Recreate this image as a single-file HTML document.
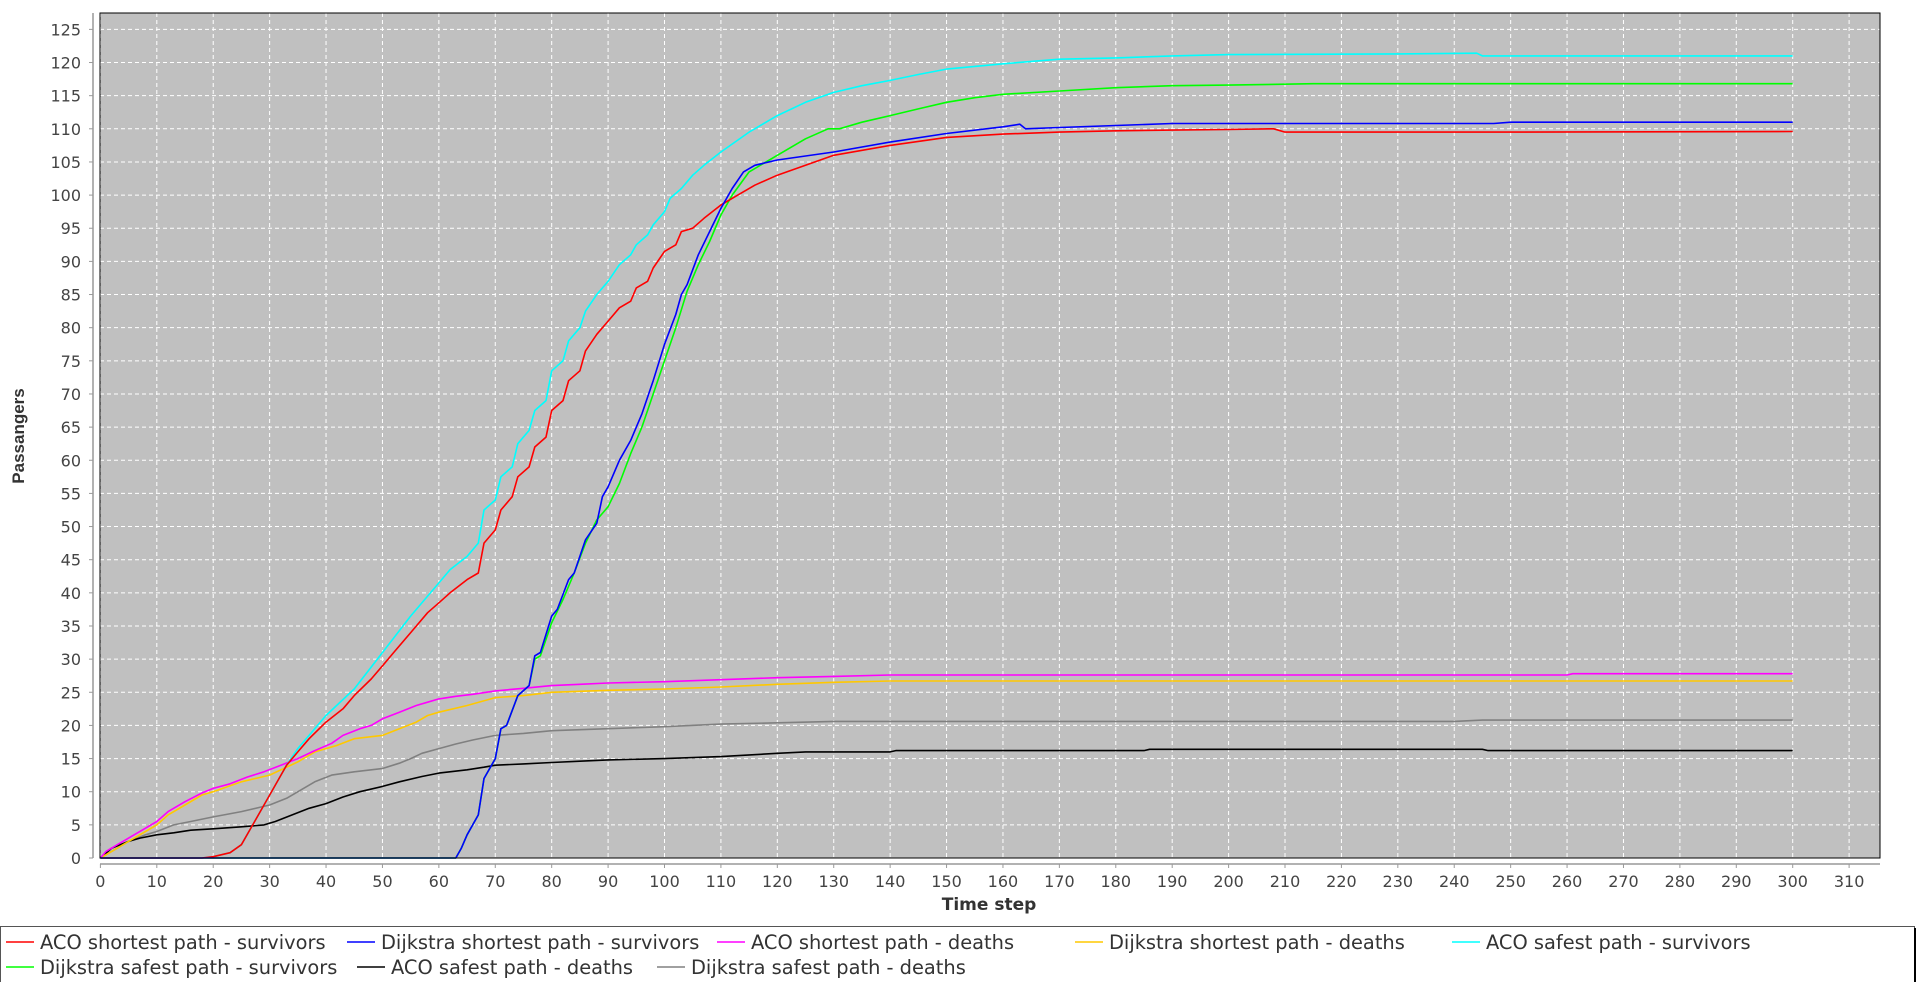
<!DOCTYPE html>
<html><head><meta charset="utf-8"><style>
body{margin:0;background:#fff;width:1919px;height:982px;overflow:hidden;font-family:"DejaVu Sans","Liberation Sans",sans-serif}
svg{position:absolute;left:0;top:0}
</style></head><body>
<svg id="c" width="1919" height="982"></svg>
<script>
const xTicks=[0,10,20,30,40,50,60,70,80,90,100,110,120,130,140,150,160,170,180,190,200,210,220,230,240,250,260,270,280,290,300,310];
const yTicks=[0,5,10,15,20,25,30,35,40,45,50,55,60,65,70,75,80,85,90,95,100,105,110,115,120,125];
const seriesNames=["ACO shortest path - survivors","Dijkstra shortest path - survivors","ACO shortest path - deaths","Dijkstra shortest path - deaths","ACO safest path - survivors","Dijkstra safest path - survivors","ACO safest path - deaths","Dijkstra safest path - deaths"];
const acoShortSurv=[[0,0],[18,0],[20,0.2],[23,0.8],[25,2],[27,5],[29,8],[31,11],[33,14],[35,16],[37,18],[40,20.5],[43,22.5],[45,24.5],[48,27],[50,29],[52,31],[55,34],[58,37],[60,38.5],[62,40],[65,42],[67,43],[68,47.5],[70,49.5],[71,52.5],[73,54.5],[74,57.5],[76,59],[77,62],[79,63.5],[80,67.5],[82,69],[83,72],[85,73.5],[86,76.5],[88,79],[90,81],[92,83],[94,84],[95,86],[97,87],[98,89],[100,91.5],[102,92.5],[103,94.5],[105,95],[107,96.5],[110,98.5],[113,100],[116,101.5],[120,103],[125,104.5],[130,106],[140,107.5],[150,108.7],[160,109.2],[170,109.5],[180,109.7],[190,109.8],[200,109.9],[208,110],[210,109.5],[250,109.5],[300,109.6]];
const dijShortSurv=[[0,0],[63,0],[64,1.5],[65,3.5],[67,6.5],[68,12],[70,15],[71,19.5],[72,20],[74,24.5],[76,26],[77,30.5],[78,31],[80,36.5],[81,37.5],[83,42],[84,43],[86,48],[88,50.5],[89,54.5],[90,56],[92,60],[94,63],[96,67],[98,72],[100,77.5],[102,82],[103,85],[104,86.5],[106,91],[108,94.5],[110,98],[112,101],[114,103.5],[116,104.5],[120,105.3],[130,106.5],[140,108],[150,109.3],[160,110.3],[163,110.7],[164,110],[170,110.2],[180,110.5],[190,110.8],[247,110.8],[250,111],[300,111]];
const acoShortDeaths=[[0,0],[1,1],[3,2],[5,3],[8,4.5],[10,5.5],[12,7],[15,8.5],[18,9.8],[20,10.5],[23,11.2],[26,12.2],[29,13],[32,14],[35,15],[38,16.2],[41,17.3],[43,18.5],[46,19.5],[48,20],[50,21],[53,22],[56,23],[58,23.5],[60,24],[63,24.4],[66,24.7],[70,25.2],[75,25.6],[80,26],[85,26.2],[90,26.4],[100,26.6],[110,26.9],[120,27.2],[130,27.4],[140,27.6],[260,27.6],[261,27.8],[300,27.8]];
const dijShortDeaths=[[0,0],[2,1],[5,2.5],[8,4],[10,5],[12,6.5],[15,8],[18,9.5],[20,10],[25,11.5],[30,12.5],[35,14.5],[38,16],[42,17],[45,18],[50,18.5],[53,19.5],[56,20.5],[58,21.5],[60,22],[65,23],[70,24.2],[75,24.5],[80,25],[90,25.3],[100,25.5],[110,25.8],[120,26.2],[130,26.5],[140,26.7],[200,26.7],[300,26.7]];
const acoSafeSurv=[[0,0],[18,0],[20,0.2],[23,0.8],[25,2],[27,5],[29,8],[31,11],[33,14],[35,16.5],[37,18.5],[40,21.5],[45,25.5],[50,31],[55,36.5],[60,41.5],[62,43.5],[65,45.5],[67,47.5],[68,52.5],[70,54],[71,57.5],[73,59],[74,62.5],[76,64.5],[77,67.5],[79,69],[80,73.5],[82,75],[83,78],[85,80],[86,82.5],[88,85],[90,87],[92,89.5],[94,91],[95,92.5],[97,94],[98,95.5],[100,97.5],[101,99.5],[103,101],[105,103],[107,104.5],[110,106.5],[115,109.5],[120,112],[125,114],[130,115.5],[135,116.5],[140,117.3],[145,118.2],[150,119],[160,119.8],[170,120.5],[180,120.7],[190,121],[200,121.2],[230,121.3],[244,121.4],[245,121],[300,121]];
const dijSafeSurv=[[0,0],[63,0],[64,1.5],[65,3.5],[67,6.5],[68,12],[70,15],[71,19.5],[72,20],[74,24.5],[76,26],[77,30],[78,30.5],[80,35.5],[82,39],[84,43],[86,47.5],[88,51],[90,53],[92,56.5],[94,61],[96,65],[98,70],[100,75],[102,80],[104,85.5],[106,89.5],[108,93],[110,97],[112,100],[115,103.5],[118,105],[120,106],[125,108.5],[129,110],[131,110],[135,111],[140,112],[145,113],[150,114],[155,114.7],[160,115.2],[170,115.7],[180,116.2],[190,116.5],[200,116.6],[215,116.8],[300,116.8]];
const acoSafeDeaths=[[0,0],[2,1.5],[5,2.5],[7,3],[10,3.5],[13,3.8],[16,4.2],[20,4.4],[25,4.7],[29,5],[31,5.5],[34,6.5],[37,7.5],[40,8.2],[43,9.2],[46,10],[50,10.8],[53,11.5],[57,12.3],[60,12.8],[65,13.3],[68,13.7],[70,14],[75,14.2],[80,14.4],[85,14.6],[90,14.8],[100,15],[110,15.3],[120,15.8],[125,16],[140,16],[141,16.2],[185,16.2],[186,16.4],[245,16.4],[246,16.2],[300,16.2]];
const dijSafeDeaths=[[0,0],[3,1.5],[5,2.5],[8,3.5],[10,4],[13,5],[16,5.5],[20,6.2],[25,7],[30,8],[33,9],[36,10.5],[38,11.5],[41,12.5],[45,13],[50,13.5],[53,14.3],[55,15],[57,15.8],[60,16.5],[63,17.2],[66,17.8],[70,18.5],[75,18.8],[80,19.2],[90,19.5],[100,19.8],[110,20.2],[120,20.4],[130,20.6],[240,20.6],[245,20.8],[300,20.8]];

const NS="http://www.w3.org/2000/svg";
const svg=document.getElementById('c');
const L=100,R=1880,T=13,B=858;
const xs=v=>100.4+v*5.641;
const ys=v=>858-v*6.629;
function mk(t,a,p){const e=document.createElementNS(NS,t);for(const k in a)e.setAttribute(k,a[k]);(p||svg).appendChild(e);return e;}
const bg=mk('rect',{x:L,y:T,width:R-L,height:B-T,fill:'#c0c0c0'});


xTicks.forEach(v=>{
 const g=mk('line',{x1:xs(v),x2:xs(v),y1:T,y2:B,stroke:'#fff','stroke-width':1,'stroke-dasharray':'4,3'});
 
 
 mk('line',{x1:xs(v),x2:xs(v),y1:864,y2:868,stroke:'#999'});
 const t=mk('text',{x:xs(v),y:887,'text-anchor':'middle','font-size':16,fill:'#444'});t.textContent=v;
 
 
});
yTicks.forEach(v=>{
 const g=mk('line',{x1:L,x2:R,y1:ys(v),y2:ys(v),stroke:'#fff','stroke-width':1,'stroke-dasharray':'4,3'});
 
 
 mk('line',{x1:89,x2:93,y1:ys(v),y2:ys(v),stroke:'#999'});
 const t=mk('text',{x:81,y:ys(v)+6,'text-anchor':'end','font-size':16,fill:'#444'});t.textContent=v;
 
 
});
mk('line',{x1:93,x2:93,y1:T,y2:B,stroke:'#999','stroke-width':1.5});
mk('line',{x1:L,x2:R,y1:864,y2:864,stroke:'#999','stroke-width':1.5});
const all=[acoShortSurv,dijShortSurv,acoShortDeaths,dijShortDeaths,acoSafeSurv,dijSafeSurv,acoSafeDeaths,dijSafeDeaths];
const cols=['#ff0000','#0000ff','#ff00ff','#ffc800','#00ffff','#00ff00','#000000','#808080'];
const order=[7,6,3,2,5,4,0,1];
order.forEach(i=>{
 const p=mk('polyline',{points:all[i].map(d=>xs(d[0]).toFixed(1)+','+ys(d[1]).toFixed(1)).join(' '),fill:'none',stroke:cols[i],'stroke-width':1.6,'stroke-linejoin':'round'});
 
 
});
mk('rect',{x:L,y:T,width:R-L,height:B-T,fill:'none',stroke:'#000','stroke-width':1});
const yl=mk('text',{x:0,y:0,transform:'translate(24,436) rotate(-90)','text-anchor':'middle','font-size':17,'font-weight':'bold',fill:'#333','font-family':'Liberation Sans Narrow, Liberation Sans, sans-serif'});yl.textContent='Passangers';


const xl=mk('text',{x:989,y:910,'text-anchor':'middle','font-size':17,'font-weight':'bold',fill:'#333'});xl.textContent='Time step';


const lb=mk('rect',{x:0.5,y:926.5,width:1914,height:60,fill:'#fff',stroke:'#555','stroke-width':1});


mk('line',{x1:1915,x2:1915,y1:928,y2:982,stroke:'#000','stroke-width':2});
const lpos=[[6,942],[347,942],[717,942],[1075,942],[1452,942],[6,967],[357,967],[657,967]];
lpos.forEach((p,i)=>{
 mk('line',{x1:p[0],x2:p[0]+28,y1:p[1],y2:p[1],stroke:cols[i],'stroke-width':1.5});
 const t=mk('text',{x:p[0]+34,y:p[1]+7,'font-size':19.4,fill:'#333'});t.textContent=seriesNames[i];
 
 
});
</script>
</body></html>
